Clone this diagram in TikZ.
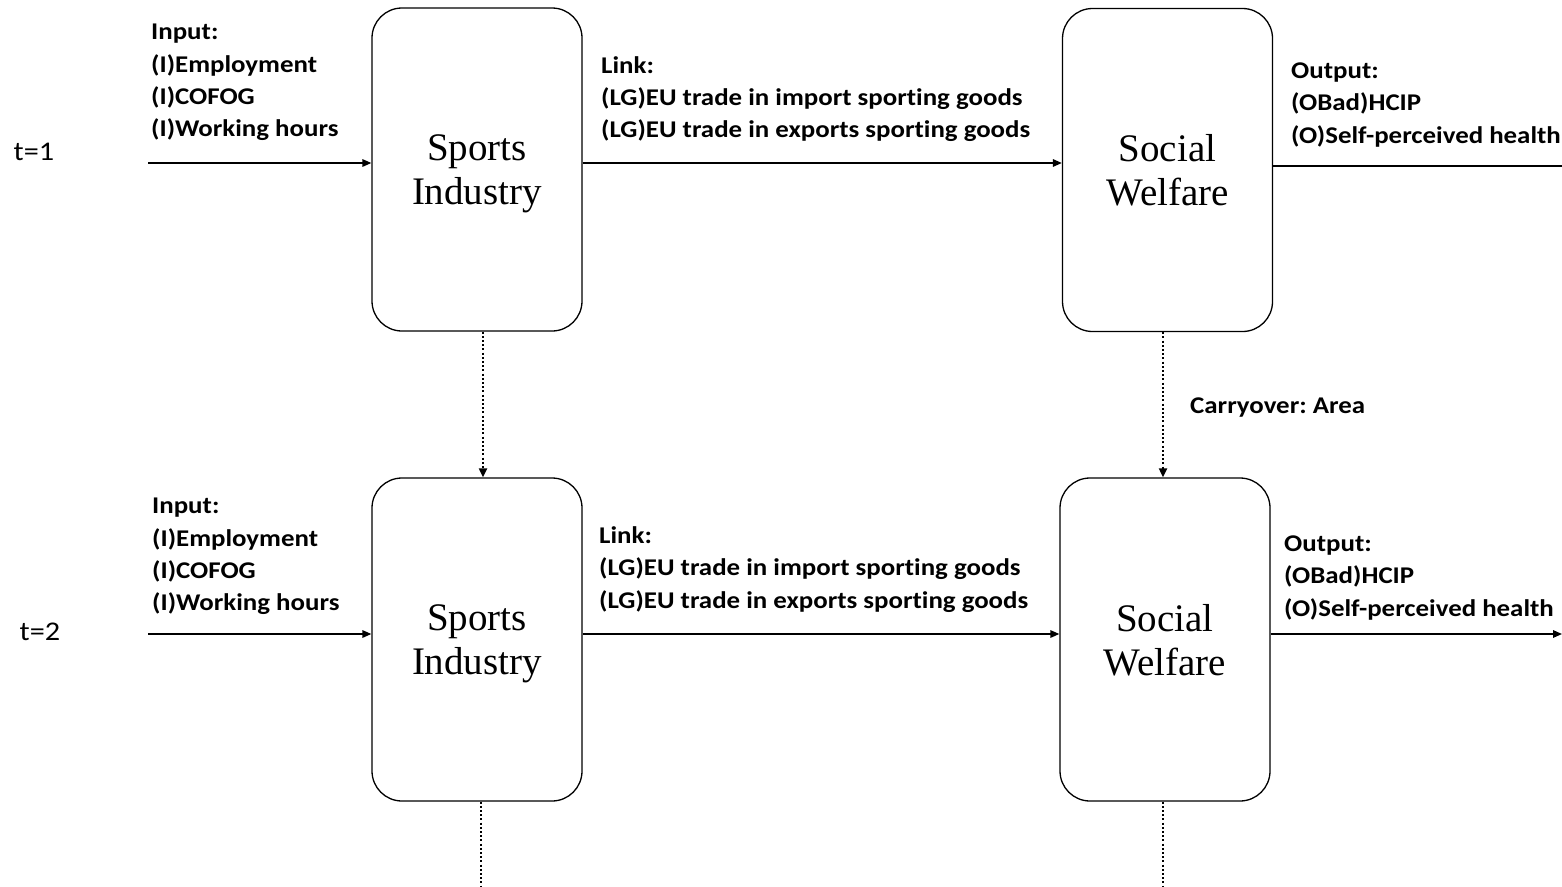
\documentclass[tikz,border=0pt]{standalone}
\usepackage{fontspec}
\newfontfamily\labfont[FakeStretch=1.12, Ligatures=NoCommon]{Carlito}
\newfontfamily\boxfont{Liberation Serif}
\usetikzlibrary{arrows.meta}
\usetikzlibrary{calc,positioning}
\frenchspacing

\tikzset{
    block/.style={draw, line width=1.3pt, rounded corners=30pt, fill=white,
        minimum width=210pt, minimum height=323pt, align=center, text depth=0pt,
        font=\boxfont\fontsize{39}{44}\selectfont},
    lab/.style={anchor=north west, inner sep=0pt, align=left,
        font=\labfont\bfseries\fontsize{24}{32.4}\selectfont},
    tlab/.style={inner sep=0pt, font=\labfont\fontsize{27}{30}\selectfont},
    flow/.style={line width=1.6pt, -{Triangle[length=9pt,width=7.5pt]}},
    carry/.style={line width=2pt, dash pattern=on 2pt off 2.2pt, -{Triangle[length=9pt,width=8pt]}},
    tail/.style={line width=2pt, dash pattern=on 2pt off 2.2pt}
}

\begin{document}
\begin{tikzpicture}[x=1pt, y=-1pt]

    \useasboundingbox (0,0) rectangle (1562,886);

    \node[block] (si1) at (477,169.5) {Sports\\Industry};
    \node[block] (sw1) at (1167.5,170) {Social\\Welfare};
    \node[block] (si2) at (477,639.5) {Sports\\Industry};
    \node[block] (sw2) at (1165,639.5) {Social\\Welfare};

    \node[tlab] (t1) at (34,152) {t=1};
    \node[tlab] (t2) at (40,632) {t=2};

    % t = 1
    \coordinate (in1) at (148,163);
    \coordinate (out1) at (1562,166);
    \draw[flow] (in1) -- (in1 -| si1.west);
    \draw[flow] (si1.east |- in1) -- (sw1.west |- in1);
    \draw[line width=1.6pt] (sw1.east |- out1) -- (out1);

    \node[lab] (inp1) at (151,24) {Input:\\(I)Employment\\(I)COFOG\\(I)Working hours};
    \node[lab] (lnk1) at (601,56) {Link:\\(LG)EU trade in import sporting goods\\(LG)EU trade in exports sporting goods};
    \node[lab] (outp1) at (1291,62.5) {Output:\\(OBad)HCIP\\(O)Self-perceived health};

    % t = 2
    \coordinate (in2) at (148,634);
    \coordinate (out2) at (1562,634);
    \draw[flow] (in2) -- (in2 -| si2.west);
    \draw[flow] (si2.east |- in2) -- (sw2.west |- in2);
    \draw[flow] (sw2.east |- out2) -- (out2);

    \node[lab] (inp2) at (152,498) {Input:\\(I)Employment\\(I)COFOG\\(I)Working hours};
    \node[lab] (lnk2) at (599,526.5) {Link:\\(LG)EU trade in import sporting goods\\(LG)EU trade in exports sporting goods};
    \node[lab] (outp2) at (1284,535.5) {Output:\\(OBad)HCIP\\(O)Self-perceived health};

    % carryover
    \draw[carry] (si1.south -| 483,0) -- (si2.north -| 483,0);
    \draw[carry] (sw1.south -| 1163,0) -- (sw2.north -| 1163,0);
    \node[lab, anchor=west] (co) at (1190,408) {Carryover: Area};

    \coordinate (end1) at (481,886);
    \coordinate (end2) at (1163,886);
    \draw[tail] (si2.south -| end1) -- (end1);
    \draw[tail] (sw2.south -| end2) -- (end2);

\end{tikzpicture}
\end{document}
